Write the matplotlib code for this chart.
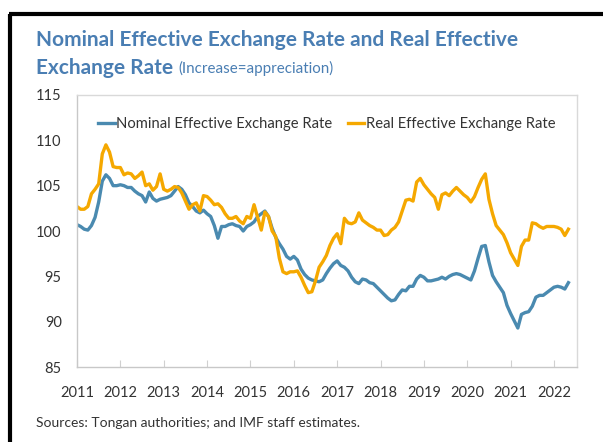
import numpy as np
import pandas as pd
import matplotlib
matplotlib.use('Agg')
import matplotlib.pyplot as plt
from matplotlib.lines import Line2D

# monthly index, Jan 2011 - May 2022
months = pd.date_range('2011-01-01', '2022-05-01', freq='MS')

neer = [
    100.7, 100.5, 100.2, 100.1, 100.6, 101.5, 103.2, 105.5, 106.2, 105.8, 105.0, 105.0,   # 2011
    105.1, 105.0, 104.8, 104.8, 104.4, 104.1, 103.9, 103.2, 104.3, 103.6, 103.3, 103.5,   # 2012
    103.6, 103.7, 103.9, 104.4, 104.9, 104.6, 104.0, 103.1, 102.7, 102.2, 102.0, 102.3,   # 2013
    101.9, 101.6, 100.6, 99.2, 100.5, 100.5, 100.7, 100.8, 100.6, 100.5, 100.0, 100.5,    # 2014
    100.7, 101.0, 101.6, 101.9, 102.2, 101.6, 100.3, 99.3, 98.6, 98.0, 97.2, 96.9,        # 2015
    97.2, 96.8, 95.8, 95.2, 94.8, 94.6, 94.5, 94.4, 94.6, 95.3, 95.9, 96.4,               # 2016
    96.7, 96.2, 96.0, 95.6, 94.9, 94.4, 94.2, 94.7, 94.6, 94.3, 94.2, 93.8,               # 2017
    93.4, 93.0, 92.6, 92.3, 92.4, 93.0, 93.5, 93.4, 93.9, 93.9, 94.7, 95.1,               # 2018
    94.9, 94.5, 94.5, 94.6, 94.7, 94.9, 94.7, 95.0, 95.2, 95.3, 95.2, 95.0,               # 2019
    94.8, 94.6, 95.6, 97.0, 98.3, 98.4, 96.6, 95.1, 94.4, 93.8, 93.2, 91.8,               # 2020
    90.9, 90.1, 89.3, 90.8, 91.0, 91.1, 91.7, 92.7, 92.9, 92.9, 93.2, 93.5,               # 2021
    93.8, 93.9, 93.8, 93.6, 94.3,                                                         # 2022
]

reer = [
    102.7, 102.4, 102.4, 102.7, 104.1, 104.6, 105.2, 108.5, 109.5, 108.7, 107.1, 107.0,   # 2011
    107.0, 106.2, 106.4, 106.3, 105.8, 106.1, 106.5, 105.0, 105.2, 104.5, 104.9, 106.3,   # 2012
    104.6, 104.4, 104.6, 104.9, 104.8, 104.2, 103.3, 102.4, 102.9, 103.1, 102.2, 103.9,   # 2013
    103.8, 103.4, 102.9, 103.0, 102.6, 101.9, 101.4, 101.4, 101.6, 101.1, 100.8, 101.6,   # 2014
    101.4, 102.9, 101.5, 100.1, 102.1, 101.6, 100.0, 99.4, 97.0, 95.5, 95.3, 95.5,        # 2015
    95.5, 95.6, 94.9, 94.0, 93.2, 93.3, 94.5, 96.0, 96.6, 97.3, 98.4, 99.2,               # 2016
    99.7, 98.6, 101.4, 100.9, 100.8, 101.0, 102.0, 101.2, 100.9, 100.6, 100.4, 100.1,     # 2017
    100.1, 99.5, 99.6, 100.1, 100.4, 101.0, 102.2, 103.4, 103.5, 103.3, 105.4, 105.8,     # 2018
    105.1, 104.6, 104.1, 103.7, 102.4, 104.0, 104.2, 103.9, 104.4, 104.8, 104.4, 104.0,   # 2019
    103.7, 103.2, 103.8, 104.8, 105.7, 106.3, 103.5, 101.9, 100.6, 100.1, 99.6, 98.7,     # 2020
    97.6, 96.9, 96.2, 98.3, 99.0, 99.0, 100.9, 100.8, 100.5, 100.3, 100.5, 100.5,         # 2021
    100.5, 100.4, 100.2, 99.5, 100.2,                                                     # 2022
]

years = list(range(2011, 2023))
yticks = [85, 90, 95, 100, 105, 110, 115]

blue = '#4a8ab0'
orange = '#f5a800'
title_col = '#4a7eb3'
txt = '#333333'

plt.rcParams['font.family'] = ['Lato', 'DejaVu Sans']

fig = plt.figure(figsize=(6.03, 4.42), dpi=100)
ax = fig.add_axes([77 / 603, 1 - 367 / 442, 500 / 603, 272 / 442])

x = months.year + (months.month - 1) / 12
ax.plot(x, neer, color=blue, lw=2.4, label='Nominal Effective Exchange Rate')
ax.plot(x, reer, color=orange, lw=2.4, label='Real Effective Exchange Rate')

ax.set_xlim(2011, 2022 + 23 / 43.3)
ax.set_ylim(85, 115)
ax.set_xticks(years)
ax.set_xticklabels([str(y) for y in years])
ax.set_yticks(yticks)
ax.tick_params(axis='x', direction='in', length=5, color='#d0d0d0', pad=14,
               labelsize=10.5, labelcolor=txt)
ax.tick_params(axis='y', length=0, pad=11, labelsize=10.5, labelcolor=txt)

for s in ax.spines.values():
    s.set_color('#d9d9d9')
    s.set_linewidth(1)
ax.spines['left'].set_color('#c8c8c8')
ax.spines['bottom'].set_color('#c8c8c8')

leg = ax.legend(loc='upper center', ncol=2, frameon=False, fontsize=10.6,
                handlelength=1.1, handletextpad=0.12, columnspacing=1.05,
                bbox_to_anchor=(0.5, 1.0), borderaxespad=1.08)
for t in leg.get_texts():
    t.set_color(txt)

fig.text(36 / 603, 1 - 40 / 442, 'Nominal Effective Exchange Rate and Real Effective',
         fontsize=15, fontweight='bold', color=title_col, va='center')
t2 = fig.text(36 / 603, 1 - 68 / 442, 'Exchange Rate', fontsize=15,
              fontweight='bold', color=title_col, va='center')
fig.canvas.draw()
bb = t2.get_window_extent()
fig.text((bb.x1 + 5) / 603, 1 - 68.5 / 442, '(Increase=appreciation)', fontsize=10.9,
         color=title_col, va='center')

fig.text(36 / 603, 1 - 423 / 442, 'Sources: Tongan authorities; and IMF staff estimates.',
         fontsize=10, color=txt, va='center')

# black frame at top/left
fig.add_artist(Line2D([10 / 603, 10 / 603], [0, 1 - 14 / 442], color='black', lw=3,
                      transform=fig.transFigure, solid_capstyle='butt'))
fig.add_artist(Line2D([8.9 / 603, 1], [1 - 14 / 442, 1 - 14 / 442], color='black', lw=3,
                      transform=fig.transFigure, solid_capstyle='butt'))

fig.savefig('out.png', dpi=100)
